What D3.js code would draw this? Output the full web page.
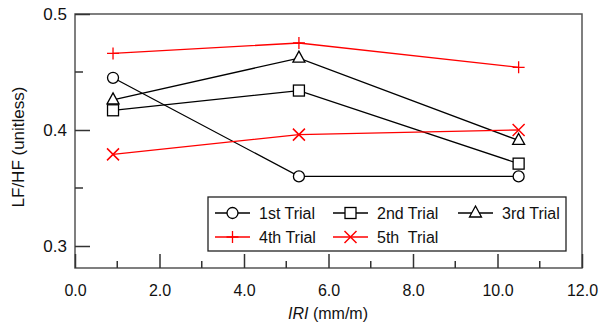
<!DOCTYPE html>
<html>
<head>
<meta charset="utf-8">
<script src="https://cdn.jsdelivr.net/npm/d3@7"></script>
<style>
  body { margin: 0; background: #fff; }
  text { font-family: "Liberation Sans", Arial, sans-serif; }
</style>
</head>
<body>
<script>
// data
const iri = [0.9, 5.3, 10.5];
const trial1 = [0.445, 0.360, 0.360];
const trial2 = [0.417, 0.434, 0.371];
const trial3 = [0.426, 0.462, 0.391];
const trial4 = [0.466, 0.475, 0.454];
const trial5 = [0.379, 0.396, 0.400];
const seriesNames = ['1st Trial', '2nd Trial', '3rd Trial', '4th Trial', '5th  Trial'];
const xTicks = [0, 2, 4, 6, 8, 10, 12];
const yTicks = [0.3, 0.4, 0.5];

const series = [
  {name: seriesNames[0], vals: trial1, color: '#000', sym: 'circle'},
  {name: seriesNames[1], vals: trial2, color: '#000', sym: 'square'},
  {name: seriesNames[2], vals: trial3, color: '#000', sym: 'triangle'},
  {name: seriesNames[3], vals: trial4, color: '#ff0000', sym: 'plus'},
  {name: seriesNames[4], vals: trial5, color: '#ff0000', sym: 'cross'}
];

const W = 600, H = 327;
const mLeft = 75, mRight = 582, mTop = 14, mBottom = 268;

const svg = d3.select('body').append('svg')
  .attr('width', W)
  .attr('height', H);

const x = d3.scaleLinear().domain([0, 12]).range([mLeft, mRight]);
const y = d3.scaleLinear().domain([0.3, 0.5]).range([246, mTop]);
y.domain([y.invert(mBottom), 0.5]).range([mBottom, mTop]);

// frame
svg.append('rect')
  .attr('x', mLeft).attr('y', mTop)
  .attr('width', mRight - mLeft).attr('height', mBottom - mTop)
  .attr('fill', 'none').attr('stroke', '#555').attr('stroke-width', 1.5);

// x ticks (inside)
const xAxis = d3.axisBottom(x).tickValues(xTicks).tickSize(-14).tickFormat(d3.format('.1f')).tickPadding(17);
const gx = svg.append('g').attr('transform', `translate(0,${mBottom})`).call(xAxis);
gx.select('.domain').remove();
gx.selectAll('.tick line').attr('stroke', '#333').attr('stroke-width', 1.5);
gx.selectAll('.tick text').attr('font-size', 16).attr('fill', '#111');
gx.selectAll('.minor').data(d3.range(1, 12, 2)).enter()
  .append('line')
  .attr('x1', d => x(d)).attr('x2', d => x(d))
  .attr('y1', 0).attr('y2', -7)
  .attr('stroke', '#333').attr('stroke-width', 1.5);

// y ticks (inside)
const yAxis = d3.axisLeft(y).tickValues(yTicks).tickSize(-15).tickFormat(d3.format('.1f')).tickPadding(8);
const gy = svg.append('g').attr('transform', `translate(${mLeft},0)`).call(yAxis);
gy.select('.domain').remove();
gy.selectAll('.tick line').attr('stroke', '#333').attr('stroke-width', 1.5);
gy.selectAll('.tick text').attr('font-size', 17).attr('fill', '#111');
gy.selectAll('.minor').data([0.35, 0.45]).enter()
  .append('line')
  .attr('x1', 0).attr('x2', 8)
  .attr('y1', d => y(d)).attr('y2', d => y(d))
  .attr('stroke', '#333').attr('stroke-width', 1.5);

// axis titles
const xt = svg.append('text')
  .attr('x', 328).attr('y', 319)
  .attr('text-anchor', 'middle').attr('font-size', 16).attr('fill', '#111');
xt.append('tspan').attr('font-style', 'italic').text('IRI');
xt.append('tspan').text(' (mm/m)');

svg.append('text')
  .attr('transform', `translate(24,147) rotate(-90)`)
  .attr('text-anchor', 'middle').attr('font-size', 17).attr('fill', '#111')
  .text('LF/HF (unitless)');

function drawMarker(g, sym, cx, cy, color) {
  if (sym === 'circle') {
    g.append('circle').attr('cx', cx).attr('cy', cy).attr('r', 5.5)
      .attr('fill', '#fff').attr('stroke', color).attr('stroke-width', 1.3);
  } else if (sym === 'square') {
    g.append('rect').attr('x', cx - 5.5).attr('y', cy - 5.5).attr('width', 11).attr('height', 11)
      .attr('fill', '#fff').attr('stroke', color).attr('stroke-width', 1.3);
  } else if (sym === 'triangle') {
    g.append('path').attr('d', `M${cx},${cy - 7}L${cx + 6},${cy + 4}L${cx - 6},${cy + 4}Z`)
      .attr('fill', '#fff').attr('stroke', color).attr('stroke-width', 1.3);
  } else if (sym === 'plus') {
    g.append('path').attr('d', `M${cx - 6},${cy}H${cx + 6}M${cx},${cy - 6}V${cy + 6}`)
      .attr('stroke', color).attr('stroke-width', 1.3);
  } else if (sym === 'cross') {
    g.append('path').attr('d', `M${cx - 6},${cy - 6}L${cx + 6},${cy + 6}M${cx + 6},${cy - 6}L${cx - 6},${cy + 6}`)
      .attr('stroke', color).attr('stroke-width', 1.5);
  }
}

const line = d3.line().x(d => x(d[0])).y(d => y(d[1]));

series.forEach(s => {
  const pts = iri.map((v, i) => [v, s.vals[i]]);
  svg.append('path').datum(pts)
    .attr('d', line).attr('fill', 'none')
    .attr('stroke', s.color).attr('stroke-width', 1.3);
});
series.forEach(s => {
  const g = svg.append('g');
  iri.forEach((v, i) => drawMarker(g, s.sym, x(v), y(s.vals[i]), s.color));
});

// legend
const leg = svg.append('g');
leg.append('rect')
  .attr('x', 208).attr('y', 197).attr('width', 358).attr('height', 54)
  .attr('fill', '#fff').attr('stroke', '#222').attr('stroke-width', 1.3);
const legPos = [[215, 213], [333, 213], [458, 213], [215, 237], [333, 237]];
series.forEach((s, i) => {
  const [lx, ly] = legPos[i];
  leg.append('line').attr('x1', lx).attr('x2', lx + 35).attr('y1', ly).attr('y2', ly)
    .attr('stroke', s.color).attr('stroke-width', 1.3);
  drawMarker(leg, s.sym, lx + 17.5, ly, s.color);
  leg.append('text').attr('x', lx + 44).attr('y', ly + 6)
    .attr('font-size', 16).attr('fill', '#111')
    .attr('xml:space', 'preserve').style('white-space', 'pre')
    .text(s.name);
});
</script>
</body>
</html>
